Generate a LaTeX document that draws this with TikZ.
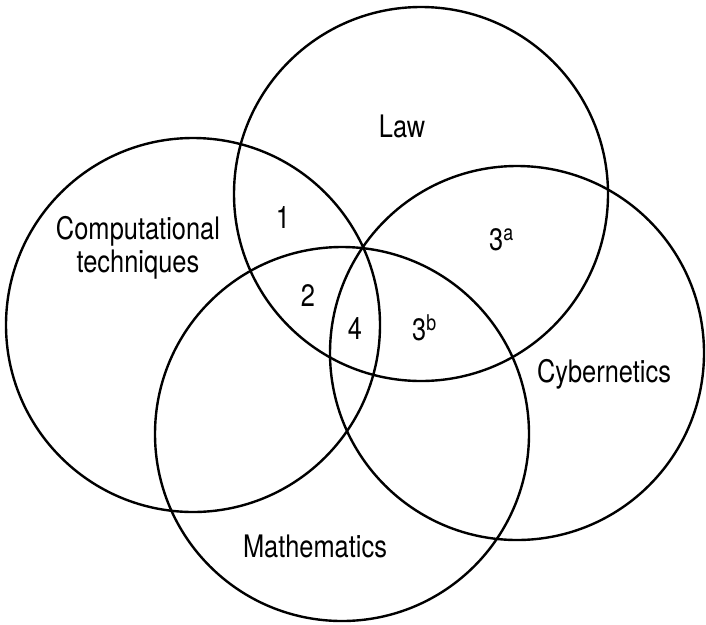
\documentclass[tikz,border=0pt]{standalone}
\usepackage{fontspec}
\setmainfont[FakeStretch=0.82]{TeX Gyre Heros}
\usetikzlibrary{positioning}

\begin{document}
\begin{tikzpicture}[x=1pt, y=-1pt, every node/.style={font=\fontsize{31}{33}\selectfont}]
    \tikzstyle{fieldset} = [circle, draw, line width=2.4pt, minimum size=374pt, inner sep=0pt]
    \tikzstyle{fieldlabel} = [inner sep=0pt, align=center]
    \tikzstyle{zonelabel} = [anchor=base, inner sep=0pt]
    \useasboundingbox (0,0) rectangle (706,624);

    % the four fields
    \node [fieldset] (law) at (421,194) {};
    \node [fieldset] (comp) at (193,325) {};
    \node [fieldset] (cyber) at (517,353) {};
    \node [fieldset] (maths) at (342,434) {};

    % field names
    \node [fieldlabel, anchor=base] (lawname) at (402,137) {Law};
    \node [fieldlabel] (compname) at (138,248) {Computational\\techniques};
    \node [fieldlabel, anchor=base] (cybername) at (604,382) {Cybernetics};
    \node [fieldlabel, anchor=base] (mathsname) at (315,557) {Mathematics};

    % overlaps
    \node [zonelabel] (one) at (283,228) {1};
    \node [zonelabel] (two) at (308,306) {2};
    \node [zonelabel] (four) at (355,339) {4};
    \node [zonelabel, anchor=base west] (threea) at (489,250) {3\textsuperscript{a}};
    \node [zonelabel, anchor=base west] (threeb) at (412,340) {3\textsuperscript{b}};
\end{tikzpicture}
\end{document}
